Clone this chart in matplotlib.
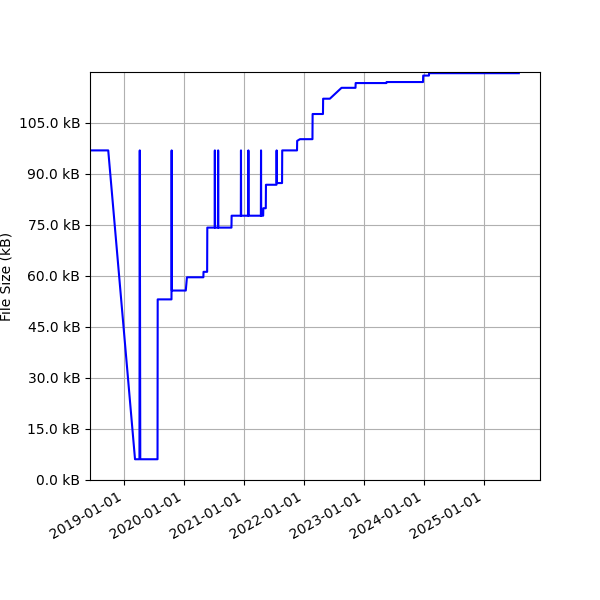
import pandas as pd
import matplotlib
matplotlib.use("Agg")
import matplotlib.pyplot as plt
import matplotlib.dates as mdates
from matplotlib.ticker import FuncFormatter

# commit dates and file sizes (kB)
dates = [
    "2018-05-20", "2018-09-27", "2019-03-09", "2019-04-05", "2019-04-07",
    "2019-04-10", "2019-07-24", "2019-07-25", "2019-10-17", "2019-10-18",
    "2019-10-19", "2020-01-12", "2020-01-19", "2020-04-28", "2020-04-29",
    "2020-05-21", "2020-05-22", "2020-07-06", "2020-07-07", "2020-07-08",
    "2020-07-26", "2020-07-27", "2020-07-28", "2020-10-16", "2020-10-17",
    "2020-12-12", "2020-12-13", "2020-12-14", "2021-01-26", "2021-01-27",
    "2021-01-28", "2021-04-13", "2021-04-14", "2021-04-15", "2021-04-27",
    "2021-04-28", "2021-05-13", "2021-05-14", "2021-07-17", "2021-07-18",
    "2021-07-19", "2021-08-20", "2021-08-21", "2021-11-19", "2021-11-20",
    "2021-12-07", "2022-02-21", "2022-02-22", "2022-04-26", "2022-04-27",
    "2022-06-07", "2022-08-17", "2022-11-10", "2022-11-11", "2023-05-17",
    "2023-05-18", "2023-12-26", "2023-12-27", "2024-01-31", "2024-02-01",
    "2025-07-31",
]
sizes = [
    96.9, 96.9, 6.1, 6.1, 96.9,
    6.1, 6.1, 53.1, 53.1, 96.9,
    55.7, 55.7, 59.6, 59.6, 61.2,
    61.2, 74.2, 74.2, 96.9, 74.2,
    74.2, 96.9, 74.2, 74.2, 77.7,
    77.7, 96.9, 77.7, 77.7, 96.9,
    77.7, 77.7, 96.9, 77.7, 77.7,
    79.9, 79.9, 86.8, 86.8, 96.9,
    87.3, 87.3, 96.9, 96.9, 99.7,
    100.2, 100.2, 107.6, 107.6, 112.1,
    112.1, 115.3, 115.3, 116.7, 116.7,
    117.0, 117.0, 118.9, 118.9, 119.6,
    119.6,
]

df = pd.DataFrame({"date": pd.to_datetime(dates), "size": sizes})

fig, ax = plt.subplots(figsize=(6, 6), dpi=100)
fig.subplots_adjust(left=0.15, right=0.9, bottom=0.2, top=0.88)
ax.plot(df["date"], df["size"], color="b")
ax.set_ylabel("File Size (kB)")
ax.yaxis.set_major_locator(plt.MultipleLocator(15))
ax.yaxis.set_major_formatter(FuncFormatter(lambda v, p: f"{v:.1f} kB"))
ax.set_ylim(0, 119.95)
ax.set_xlim(pd.Timestamp("2018-06-08"), pd.Timestamp("2025-12-07"))
ax.xaxis.set_major_locator(mdates.YearLocator())
ax.xaxis.set_major_formatter(mdates.DateFormatter("%Y-%m-%d"))
ax.grid(True)
plt.setp(ax.get_xticklabels(), rotation=30, ha="right")
plt.savefig("out.png")
